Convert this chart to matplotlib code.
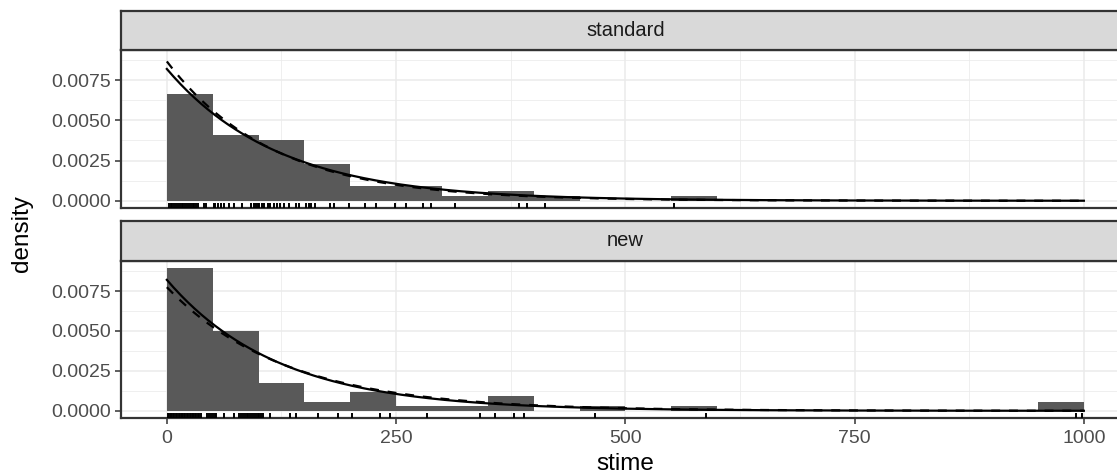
import numpy as np
import matplotlib.pyplot as plt
from matplotlib.transforms import blended_transform_factory

plt.rcParams['font.family'] = ['Liberation Sans', 'DejaVu Sans']

# histogram (binwidth 50, 0..1000) densities
bin_edges = np.arange(0, 1001, 50)
dens_standard = [0.00664, 0.00409, 0.00378, 0.00231, 0.00092, 0.00092, 0.00031,
                 0.00059, 0.00031, 0, 0, 0.00029, 0, 0, 0, 0, 0, 0, 0, 0]
dens_new = [0.00893, 0.00502, 0.00177, 0.00058, 0.00119, 0.00029, 0.00029,
            0.00091, 0, 0.00029, 0, 0.00029, 0, 0, 0, 0, 0, 0, 0, 0.00058]

# rug marks (survival times)
rug_standard = [2, 4, 6, 8, 10, 12, 14, 16, 18, 20, 22, 24, 26, 28, 30, 32, 34, 41, 43,
                51, 53, 56, 59, 62, 68, 73, 82, 92, 95, 97, 99,
                101, 104, 106, 110, 112, 117, 120, 123, 128, 133, 141, 144,
                152, 155, 157, 162, 178, 182, 199, 216, 228, 249, 261, 279, 288,
                314, 384, 393, 412, 553]
rug_new = [1, 2, 4, 5, 7, 8, 10, 11, 13, 14, 16, 17, 19, 20, 22, 23, 25, 26, 28, 29,
           31, 32, 34, 35, 37, 44, 46, 48,
           50, 52, 54, 62, 73, 79, 81, 83, 85, 87, 89, 91, 93, 95, 97, 99,
           101, 103, 105, 112, 134, 141, 165, 187, 202, 232, 243, 284, 341,
           358, 379, 390, 467, 588, 991, 998]

# fitted exponential rates: pooled (solid) and per group (dashed)
rate_pooled = 0.0082
rate_group = {'standard': 0.00867, 'new': 0.00774}

groups = ['standard', 'new']
dens = {'standard': dens_standard, 'new': dens_new}
rugs = {'standard': rug_standard, 'new': rug_new}

W, H = 1117, 476
fig = plt.figure(figsize=(W / 100, H / 100), dpi=100)

left = 121 / W
width = 1100 * 0.917 / W
panels = {'standard': (50, 208, 11), 'new': (261, 418, 221)}

xs = np.linspace(0, 1000, 400)
for g in groups:
    ptop, pbot, stop = panels[g]
    ax = fig.add_axes([left, 1 - pbot / H, width, (pbot - ptop) / H])
    ax.bar(bin_edges[:-1], dens[g], width=50, align='edge', color='#595959', linewidth=0, zorder=2)
    tr = blended_transform_factory(ax.transData, ax.transAxes)
    ax.vlines(rugs[g], 0, 0.03, transform=tr, color='black', lw=1.4, zorder=3)
    ax.plot(xs, rate_pooled * np.exp(-rate_pooled * xs), color='black', lw=1.6, zorder=4)
    lam = rate_group[g]
    ax.plot(xs, lam * np.exp(-lam * xs), color='black', lw=1.6, ls=(0, (4, 4)), zorder=4)

    ax.set_xlim(-50, 1050)
    ax.set_ylim(-0.00045, 0.00938)
    ax.set_yticks([0, 0.0025, 0.005, 0.0075])
    ax.set_yticklabels(['0.0000', '0.0025', '0.0050', '0.0075'])
    ax.set_yticks([0.00125, 0.00375, 0.00625, 0.00875], minor=True)
    ax.set_xticks([0, 250, 500, 750, 1000])
    ax.set_xticks([125, 375, 625, 875], minor=True)
    ax.grid(which='major', color='#EBEBEB', lw=1.1, zorder=0)
    ax.grid(which='minor', color='#EBEBEB', lw=0.55, zorder=0)
    ax.set_axisbelow(True)
    for s in ax.spines.values():
        s.set_color('#333333')
        s.set_linewidth(1.6)
    ax.tick_params(which='major', color='#333333', width=1.1, length=4.5,
                   labelsize=14, labelcolor='#4D4D4D', pad=2.5)
    ax.tick_params(axis='x', pad=4)
    ax.tick_params(which='minor', length=0)
    if g == 'standard':
        ax.tick_params(axis='x', which='both', bottom=False, labelbottom=False)
    else:
        ax.set_xlabel('stime', fontsize=17.5, labelpad=4.5)

    sax = fig.add_axes([left, 1 - ptop / H, width, (ptop - stop) / H])
    sax.set_facecolor('#D9D9D9')
    sax.set_xticks([])
    sax.set_yticks([])
    for s in sax.spines.values():
        s.set_color('#333333')
        s.set_linewidth(1.6)
    sax.text(0.5, 0.5, g, transform=sax.transAxes,
             ha='center', va='center', fontsize=14.5, color='#1A1A1A')

fig.text(22 / W, 1 - 234 / H, 'density', rotation=90, ha='center', va='center', fontsize=17.5)

fig.savefig('out.png', dpi=100)
